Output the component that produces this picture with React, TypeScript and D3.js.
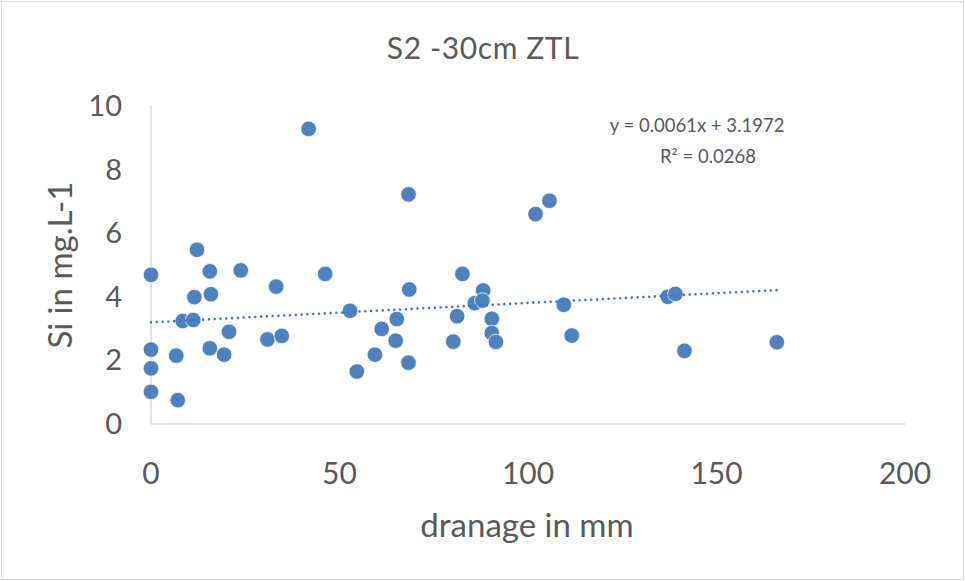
import React from "react";
import * as d3 from "d3";

const drainage = [41.8, 68.3, 12.2, 0, 15.6, 23.8, 46.2, 33.2, 11.5, 15.9, 68.5, 52.8, 8.4, 11.2, 65.2, 20.7, 61.2, 30.9, 34.7, 64.9, 0, 15.6, 6.7, 19.4, 59.4, 0, 54.6, 68.3, 0, 7.1, 102.0, 105.7, 82.6, 88.1, 85.9, 87.9, 81.2, 90.4, 90.4, 91.5, 80.2, 109.5, 111.6, 137.1, 139.1, 141.5, 166.0];
const silicon = [9.28, 7.22, 5.48, 4.69, 4.80, 4.83, 4.72, 4.32, 3.99, 4.08, 4.23, 3.56, 3.24, 3.27, 3.30, 2.90, 2.99, 2.66, 2.77, 2.62, 2.34, 2.38, 2.15, 2.18, 2.18, 1.75, 1.65, 1.93, 1.01, 0.75, 6.60, 7.02, 4.72, 4.20, 3.80, 3.88, 3.39, 3.31, 2.86, 2.58, 2.59, 3.75, 2.78, 4.00, 4.09, 2.30, 2.57];
const xTicks = [0, 50, 100, 150, 200];
const yTicks = [0, 2, 4, 6, 8, 10];
const slope = 0.0061;
const intercept = 3.1972;
const title = "S2 -30cm ZTL";
const xLabel = "dranage in mm";
const yLabel = "Si in mg.L-1";

export default function App() {
  const W = 965, H = 581;
  const x = d3.scaleLinear().domain([0, 200]).range([151, 905]);
  const y = d3.scaleLinear().domain([0, 10]).range([424, 106]);
  const font = "Lato, 'Open Sans', sans-serif";
  const txt = "#595959";
  const col = "#4F81BD";
  const xMax = d3.max(drainage) as number;
  const xMin = d3.min(drainage) as number;
  const line = d3.line<number>().x(d => x(d)).y(d => y(slope * d + intercept));
  return (
    <svg width={W} height={H} style={{ position: "absolute", left: 0, top: 0, background: "#fff" }}>
      <rect x={1.5} y={1.5} width={W - 3} height={H - 3} fill="#fff" stroke="#d9d9d9" strokeWidth={1} />
      <text x={483} y={59} textAnchor="middle" fontFamily={font} fontSize={30} letterSpacing={0.6} fill={txt}>{title}</text>
      <line x1={x(0)} x2={x(0)} y1={y(10)} y2={y(0)} stroke="#d9d9d9" strokeWidth={1.5} />
      <line x1={x(0)} x2={x(200)} y1={y(0)} y2={y(0)} stroke="#d9d9d9" strokeWidth={1.5} />
      {yTicks.map(t => (
        <text key={t} x={122} y={y(t) + 10} textAnchor="end" fontFamily={font} fontSize={29} fill={txt}>{t}</text>
      ))}
      {xTicks.map(t => (
        <text key={t} x={x(t)} y={484} textAnchor="middle" fontFamily={font} fontSize={30} fill={txt}>{t}</text>
      ))}
      <text x={527} y={537} textAnchor="middle" fontFamily={font} fontSize={33} fill={txt}>{xLabel}</text>
      <text transform={`translate(72,265) rotate(-90)`} textAnchor="middle" fontFamily={font} fontSize={33} fill={txt}>{yLabel}</text>
      {drainage.map((d, i) => (
        <circle key={i} cx={x(d)} cy={y(silicon[i])} r={7.8} fill={col} stroke="#fff" strokeWidth={0.75} />
      ))}
      <path d={line([xMin, xMax]) || ""} fill="none" stroke="#4472C4" strokeWidth={2.6} strokeDasharray="0 5.8" strokeLinecap="round" />
      <text x={697} y={132} textAnchor="middle" fontFamily={font} fontSize={18.5} fill={txt}>y = 0.0061x + 3.1972</text>
      <text x={708} y={163} textAnchor="middle" fontFamily={font} fontSize={18.5} fill={txt}>R² = 0.0268</text>
    </svg>
  );
}
